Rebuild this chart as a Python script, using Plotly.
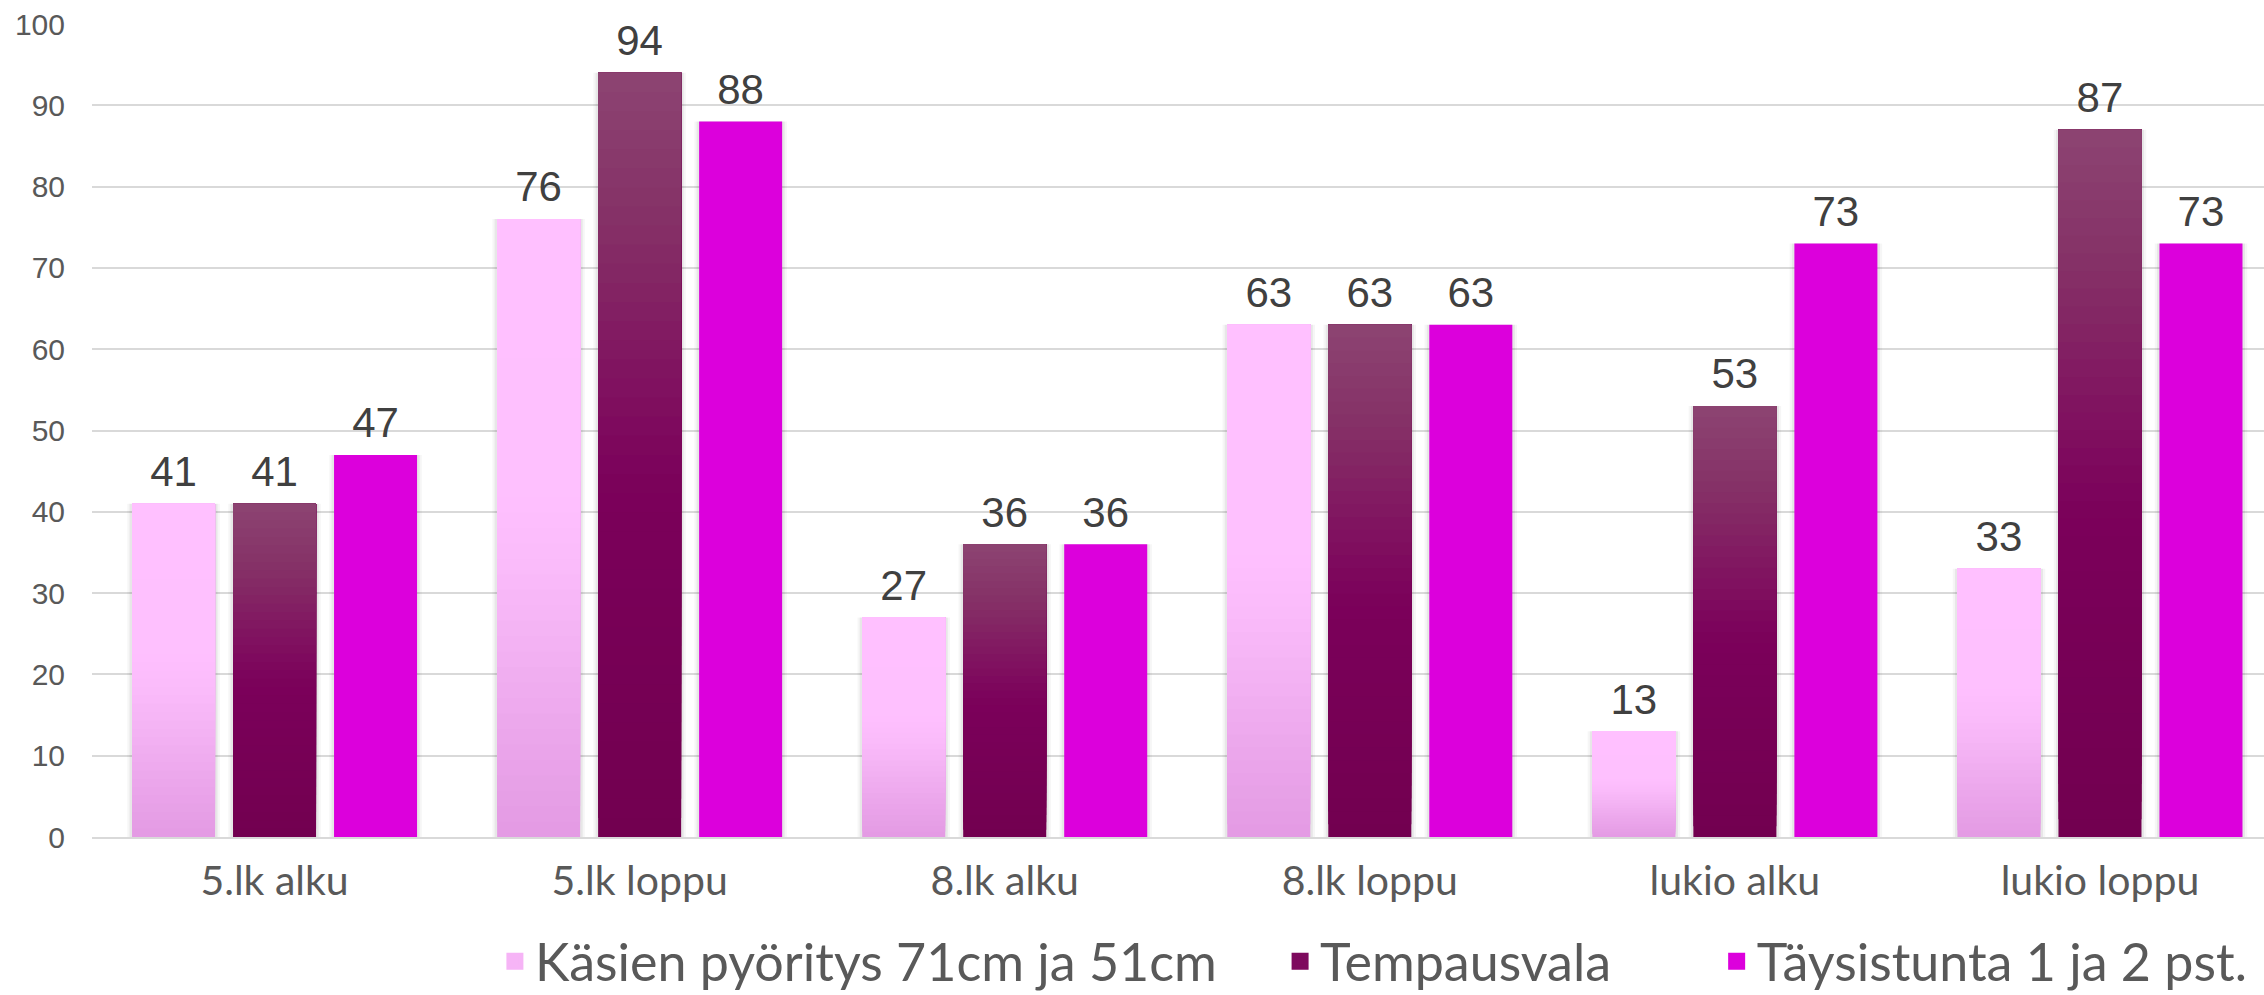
import plotly.graph_objects as go

# ---- data -------------------------------------------------------------
categories = ["5.lk alku", "5.lk loppu", "8.lk alku", "8.lk loppu", "lukio alku", "lukio loppu"]
kasien_pyoritys = [41, 76, 27, 63, 13, 33]
tempausvala = [41, 94, 36, 63, 53, 87]
taysistunta = [47, 88, 36, 63, 73, 73]
series_names = ["Käsien pyöritys 71cm ja 51cm", "Tempausvala", "Täysistunta 1 ja 2 pst."]
y_ticks = list(range(0, 101, 10))

# vertical colour ramps (position along the bar from bottom 0 to top 1)
ramps = [
    [(0.0, "#E39AE3"), (0.2, "#EDA9ED"), (0.42, "#F9BAF9"), (0.55, "#FEC0FE"), (1.0, "#FFC0FF")],
    [(0.0, "#720050"), (0.45, "#7B005A"), (0.6, "#801260"), (0.8, "#853066"), (1.0, "#8C4472")],
    [(0.0, "#DC00DC"), (1.0, "#DC00DC")],
]
legend_colors = ["#F6B4F6", "#7E0A5E", "#DC00DC"]
legend_ids = ["legend", "legend2", "legend3"]
legend_x = [0.1855, 0.547, 0.748]

BAR_W = 0.2274  # bar width in category units (one category = 1)


def hex_rgb(h):
    h = h.lstrip("#")
    return tuple(int(h[i:i + 2], 16) for i in (0, 2, 4))


def ramp_color(ramp, t):
    for (t0, c0), (t1, c1) in zip(ramp[:-1], ramp[1:]):
        if t0 <= t <= t1:
            f = 0 if t1 == t0 else (t - t0) / (t1 - t0)
            a, b = hex_rgb(c0), hex_rgb(c1)
            r = [round(a[i] + (b[i] - a[i]) * f) for i in range(3)]
            return "rgb({},{},{})".format(*r)
    return ramp[-1][1]


fig = go.Figure()

STEPS = 40
all_values = [kasien_pyoritys, tempausvala, taysistunta]
for s, (name, values, ramp) in enumerate(zip(series_names, all_values, ramps)):
    steps = 1 if ramp[0][1] == ramp[-1][1] else STEPS
    group = str(s)
    # legend entry only (no drawn bars)
    fig.add_trace(go.Bar(
        x=categories, y=[None] * len(values), name=name,
        marker=dict(color=legend_colors[s], line=dict(width=5, color=legend_colors[s])),
        offsetgroup=group, legendgroup=group, showlegend=True,
        legend=legend_ids[s], hoverinfo="skip",
    ))
    # soft side shadow behind the bars
    for extra, alpha in ((0.026, 0.035), (0.014, 0.06)):
        fig.add_trace(go.Bar(
            x=categories, y=values, width=BAR_W + extra,
            marker=dict(color=f"rgba(0,0,0,{alpha})", line=dict(width=0)),
            offsetgroup=group, legendgroup=group, showlegend=False, hoverinfo="skip",
        ))
    # each layer starts a little higher and always reaches the bar top,
    # so the layers above cover the lower ones and form a vertical ramp
    for k in range(steps):
        fig.add_trace(go.Bar(
            x=categories,
            base=[v * k / steps for v in values],
            y=[v * (steps - k) / steps for v in values],
            width=BAR_W,
            marker=dict(color=ramp_color(ramp, (k + 0.5) / steps), line=dict(width=0)),
            offsetgroup=group, legendgroup=group, showlegend=False, name=name,
            hovertemplate="%{x}: %{customdata}<extra>" + name + "</extra>",
            customdata=values,
        ))
    # value labels above the bars
    fig.add_trace(go.Scatter(
        x=categories, y=values, mode="markers+text",
        text=[str(v) for v in values], textposition="top center",
        textfont=dict(family="Liberation Sans, Arial, sans-serif", size=42, color="#404040"),
        marker=dict(size=10, opacity=0),
        offsetgroup=group, legendgroup=group, showlegend=False,
        hoverinfo="skip", cliponaxis=False,
    ))

legend_style = dict(
    orientation="h", xanchor="left", y=-0.153, yanchor="middle",
    font=dict(family="Lato, sans-serif", size=52, color="#595959"),
    itemwidth=30, bgcolor="rgba(0,0,0,0)",
)
fig.update_layout(
    width=2264, height=995,
    margin=dict(l=92, r=0, t=24, b=158, autoexpand=False),
    paper_bgcolor="white", plot_bgcolor="white",
    barmode="group", bargap=0.17, bargroupgap=0.178,
    scattermode="group", scattergap=0.17,
    showlegend=True,
    legend=dict(x=legend_x[0], **legend_style),
    legend2=dict(x=legend_x[1], **legend_style),
    legend3=dict(x=legend_x[2], **legend_style),
)
fig.update_xaxes(
    type="category", range=[-0.5, 5.4493],
    showgrid=False, showline=True, linecolor="#D9D9D9", linewidth=2,
    ticks="", tickfont=dict(family="Lato, sans-serif", size=41, color="#595959"),
    ticklabelstandoff=7,
)
fig.update_yaxes(
    range=[0, 100], tickvals=y_ticks,
    showgrid=True, gridcolor="#D9D9D9", gridwidth=2, zeroline=False, showline=False,
    ticks="", tickfont=dict(family="Liberation Sans, Arial, sans-serif", size=30, color="#595959"),
    ticklabelstandoff=26,
)

fig.write_html("out.html")
